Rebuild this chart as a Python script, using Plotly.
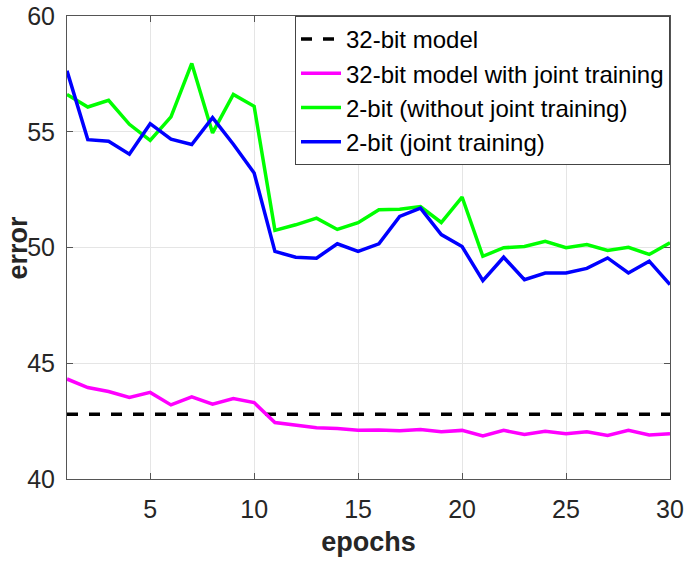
import plotly.graph_objects as go

epochs = list(range(1, 31))

fp32_error = 42.8  # 32-bit model, flat reference

fp32_joint = [44.32, 43.95, 43.78, 43.52, 43.74, 43.20, 43.55, 43.23, 43.48, 43.30,
              42.44, 42.34, 42.21, 42.18, 42.11, 42.12, 42.08, 42.14, 42.04, 42.10,
              41.86, 42.10, 41.92, 42.06, 41.96, 42.04, 41.88, 42.10, 41.90, 41.96]

bit2_no_joint = [56.61, 56.07, 56.36, 55.32, 54.63, 55.64, 57.95, 54.95, 56.61, 56.10,
                 50.74, 50.98, 51.27, 50.78, 51.07, 51.63, 51.65, 51.77, 51.08, 52.18,
                 49.62, 49.99, 50.04, 50.27, 49.99, 50.13, 49.87, 50.01, 49.70, 50.20]

bit2_joint = [57.63, 54.66, 54.59, 54.03, 55.35, 54.68, 54.45, 55.61, 54.46, 53.22,
              49.83, 49.58, 49.54, 50.16, 49.83, 50.16, 51.34, 51.70, 50.56, 50.04,
              48.57, 49.58, 48.61, 48.90, 48.90, 49.10, 49.55, 48.90, 49.41, 48.40]

FONT = "Liberation Sans, Arial, Helvetica, sans-serif"
TXT = "#262626"

fig = go.Figure()
fig.add_trace(go.Scatter(x=epochs, y=[fp32_error] * len(epochs), mode="lines",
                         name="32-bit model",
                         line=dict(color="black", width=3.5, dash="11px,11px")))
fig.add_trace(go.Scatter(x=epochs, y=fp32_joint, mode="lines",
                         name="32-bit model with joint training",
                         line=dict(color="#ff00ff", width=3.5)))
fig.add_trace(go.Scatter(x=epochs, y=bit2_no_joint, mode="lines",
                         name="2-bit (without joint training)",
                         line=dict(color="#00ff00", width=3.5)))
fig.add_trace(go.Scatter(x=epochs, y=bit2_joint, mode="lines",
                         name="2-bit (joint training)",
                         line=dict(color="#0000ff", width=3.5)))

axis_common = dict(
    showgrid=True, gridcolor="#e5e5e5", gridwidth=1,
    showline=True, linecolor="#555555", linewidth=1, mirror="ticks",
    ticks="inside", ticklen=6, tickcolor="#555555",
    tickfont=dict(family=FONT, size=25, color=TXT),
    zeroline=False, automargin=False,
)

fig.update_xaxes(range=[1, 30], tickvals=[5, 10, 15, 20, 25, 30],
                 ticklabelstandoff=8,
                 title=dict(text="<b>epochs</b>", font=dict(family=FONT, size=27, color=TXT),
                            standoff=10),
                 **axis_common)
fig.update_yaxes(range=[40, 60], tickvals=[40, 45, 50, 55, 60],
                 ticklabelstandoff=6,
                 **axis_common)

# y title placed by hand so it can hug the left edge like the original
fig.add_annotation(text="<b>error</b>", textangle=-90, showarrow=False,
                   xref="paper", yref="paper", x=-67 / 603, y=0.5,
                   xanchor="left", yanchor="middle",
                   font=dict(family=FONT, size=27, color=TXT))

fig.update_layout(
    width=691, height=562,
    margin=dict(l=67, r=21, t=16, b=83),
    plot_bgcolor="white", paper_bgcolor="white",
    font=dict(family=FONT, color=TXT),
    legend=dict(x=1, y=1, xanchor="right", yanchor="top",
                bgcolor="white", bordercolor="#444444", borderwidth=1,
                font=dict(family=FONT, size=24, color="black"),
                tracegroupgap=0, itemwidth=40),
    showlegend=True,
)

# page body has a default 8px margin; drop it so the figure sits at the window corner
fig.write_html("out.html", config={"displayModeBar": False},
               post_script="document.body.style.margin='0';")
